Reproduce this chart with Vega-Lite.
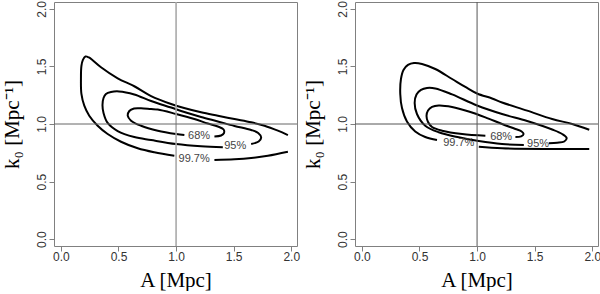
{
  "$schema": "https://vega.github.io/schema/vega-lite/v6.json",
  "padding": {"left": 0, "top": 0, "right": 0, "bottom": 0},
  "background": "white",
  "bounds": "flush",
  "spacing": 58,
  "config": {
    "view": {"stroke": "#808080", "strokeWidth": 1},
    "axis": {
      "grid": false, "domain": false, "tickColor": "#808080", "tickSize": 5, "tickWidth": 1,
      "labelFont": "Liberation Sans", "labelFontSize": 12, "labelColor": "#333",
      "labelFlush": false, "labelOverlap": false, "labelBound": false,
      "titleFont": "Liberation Serif", "titleFontSize": 21, "titleFontWeight": "normal", "titleColor": "black"
    }
  },
  "datasets": {
    "c": [
      {"p":"L","s":"997a","i":0,"A":0.985,"k":0.724},
      {"p":"L","s":"997a","i":1,"A":0.811,"k":0.754},
      {"p":"L","s":"997a","i":2,"A":0.667,"k":0.789},
      {"p":"L","s":"997a","i":3,"A":0.522,"k":0.846},
      {"p":"L","s":"997a","i":4,"A":0.406,"k":0.913},
      {"p":"L","s":"997a","i":5,"A":0.319,"k":0.985},
      {"p":"L","s":"997a","i":6,"A":0.246,"k":1.072},
      {"p":"L","s":"997a","i":7,"A":0.203,"k":1.159},
      {"p":"L","s":"997a","i":8,"A":0.178,"k":1.261},
      {"p":"L","s":"997a","i":9,"A":0.174,"k":1.391},
      {"p":"L","s":"997a","i":10,"A":0.178,"k":1.504},
      {"p":"L","s":"997a","i":11,"A":0.191,"k":1.557},
      {"p":"L","s":"997a","i":12,"A":0.213,"k":1.587},
      {"p":"L","s":"997a","i":13,"A":0.243,"k":1.578},
      {"p":"L","s":"997a","i":14,"A":0.278,"k":1.552},
      {"p":"L","s":"997a","i":15,"A":0.348,"k":1.493},
      {"p":"L","s":"997a","i":16,"A":0.493,"k":1.397},
      {"p":"L","s":"997a","i":17,"A":0.637,"k":1.328},
      {"p":"L","s":"997a","i":18,"A":0.783,"k":1.243},
      {"p":"L","s":"997a","i":19,"A":0.957,"k":1.174},
      {"p":"L","s":"997a","i":20,"A":1.070,"k":1.139},
      {"p":"L","s":"997a","i":21,"A":1.217,"k":1.102},
      {"p":"L","s":"997a","i":22,"A":1.363,"k":1.072},
      {"p":"L","s":"997a","i":23,"A":1.507,"k":1.043},
      {"p":"L","s":"997a","i":24,"A":1.652,"k":1.015},
      {"p":"L","s":"997a","i":25,"A":1.768,"k":0.985},
      {"p":"L","s":"997a","i":26,"A":1.884,"k":0.942},
      {"p":"L","s":"997a","i":27,"A":1.971,"k":0.904},
      {"p":"L","s":"997b","i":0,"A":1.333,"k":0.687},
      {"p":"L","s":"997b","i":1,"A":1.507,"k":0.693},
      {"p":"L","s":"997b","i":2,"A":1.652,"k":0.704},
      {"p":"L","s":"997b","i":3,"A":1.797,"k":0.724},
      {"p":"L","s":"997b","i":4,"A":1.971,"k":0.759},
      {"p":"L","s":"95","i":0,"A":1.406,"k":0.797},
      {"p":"L","s":"95","i":1,"A":1.217,"k":0.806},
      {"p":"L","s":"95","i":2,"A":1.0,"k":0.826},
      {"p":"L","s":"95","i":3,"A":0.783,"k":0.861},
      {"p":"L","s":"95","i":4,"A":0.637,"k":0.887},
      {"p":"L","s":"95","i":5,"A":0.493,"k":0.939},
      {"p":"L","s":"95","i":6,"A":0.406,"k":1.009},
      {"p":"L","s":"95","i":7,"A":0.370,"k":1.096},
      {"p":"L","s":"95","i":8,"A":0.361,"k":1.165},
      {"p":"L","s":"95","i":9,"A":0.370,"k":1.226},
      {"p":"L","s":"95","i":10,"A":0.391,"k":1.261},
      {"p":"L","s":"95","i":11,"A":0.435,"k":1.278},
      {"p":"L","s":"95","i":12,"A":0.504,"k":1.283},
      {"p":"L","s":"95","i":13,"A":0.637,"k":1.257},
      {"p":"L","s":"95","i":14,"A":0.783,"k":1.2},
      {"p":"L","s":"95","i":15,"A":0.957,"k":1.143},
      {"p":"L","s":"95","i":16,"A":1.072,"k":1.104},
      {"p":"L","s":"95","i":17,"A":1.217,"k":1.061},
      {"p":"L","s":"95","i":18,"A":1.363,"k":1.022},
      {"p":"L","s":"95","i":19,"A":1.507,"k":0.983},
      {"p":"L","s":"95","i":20,"A":1.652,"k":0.948},
      {"p":"L","s":"95","i":21,"A":1.713,"k":0.922},
      {"p":"L","s":"95","i":22,"A":1.739,"k":0.883},
      {"p":"L","s":"95","i":23,"A":1.717,"k":0.848},
      {"p":"L","s":"95","i":24,"A":1.652,"k":0.826},
      {"p":"L","s":"68","i":0,"A":1.072,"k":0.904},
      {"p":"L","s":"68","i":1,"A":1.0,"k":0.913},
      {"p":"L","s":"68","i":2,"A":0.841,"k":0.942},
      {"p":"L","s":"68","i":3,"A":0.696,"k":0.985},
      {"p":"L","s":"68","i":4,"A":0.609,"k":1.029},
      {"p":"L","s":"68","i":5,"A":0.580,"k":1.072},
      {"p":"L","s":"68","i":6,"A":0.594,"k":1.113},
      {"p":"L","s":"68","i":7,"A":0.635,"k":1.135},
      {"p":"L","s":"68","i":8,"A":0.696,"k":1.137},
      {"p":"L","s":"68","i":9,"A":0.783,"k":1.130},
      {"p":"L","s":"68","i":10,"A":0.841,"k":1.126},
      {"p":"L","s":"68","i":11,"A":1.0,"k":1.087},
      {"p":"L","s":"68","i":12,"A":1.159,"k":1.043},
      {"p":"L","s":"68","i":13,"A":1.276,"k":1.004},
      {"p":"L","s":"68","i":14,"A":1.363,"k":0.978},
      {"p":"L","s":"68","i":15,"A":1.413,"k":0.952},
      {"p":"L","s":"68","i":16,"A":1.417,"k":0.922},
      {"p":"L","s":"68","i":17,"A":1.391,"k":0.9},
      {"p":"L","s":"68","i":18,"A":1.333,"k":0.891},
      {"p":"R","s":"997a","i":0,"A":0.652,"k":0.861},
      {"p":"R","s":"997a","i":1,"A":0.550,"k":0.887},
      {"p":"R","s":"997a","i":2,"A":0.463,"k":0.935},
      {"p":"R","s":"997a","i":3,"A":0.391,"k":1.022},
      {"p":"R","s":"997a","i":4,"A":0.348,"k":1.139},
      {"p":"R","s":"997a","i":5,"A":0.333,"k":1.261},
      {"p":"R","s":"997a","i":6,"A":0.339,"k":1.391},
      {"p":"R","s":"997a","i":7,"A":0.361,"k":1.470},
      {"p":"R","s":"997a","i":8,"A":0.4,"k":1.513},
      {"p":"R","s":"997a","i":9,"A":0.452,"k":1.530},
      {"p":"R","s":"997a","i":10,"A":0.522,"k":1.522},
      {"p":"R","s":"997a","i":11,"A":0.637,"k":1.478},
      {"p":"R","s":"997a","i":12,"A":0.783,"k":1.391},
      {"p":"R","s":"997a","i":13,"A":0.898,"k":1.322},
      {"p":"R","s":"997a","i":14,"A":1.0,"k":1.265},
      {"p":"R","s":"997a","i":15,"A":1.130,"k":1.222},
      {"p":"R","s":"997a","i":16,"A":1.217,"k":1.187},
      {"p":"R","s":"997a","i":17,"A":1.435,"k":1.116},
      {"p":"R","s":"997a","i":18,"A":1.652,"k":1.043},
      {"p":"R","s":"997a","i":19,"A":1.826,"k":1.0},
      {"p":"R","s":"997a","i":20,"A":1.974,"k":0.950},
      {"p":"R","s":"997b","i":0,"A":1.015,"k":0.803},
      {"p":"R","s":"997b","i":1,"A":1.217,"k":0.789},
      {"p":"R","s":"997b","i":2,"A":1.652,"k":0.783},
      {"p":"R","s":"997b","i":3,"A":1.974,"k":0.783},
      {"p":"R","s":"95","i":0,"A":1.406,"k":0.817},
      {"p":"R","s":"95","i":1,"A":1.217,"k":0.826},
      {"p":"R","s":"95","i":2,"A":1.015,"k":0.852},
      {"p":"R","s":"95","i":3,"A":0.841,"k":0.884},
      {"p":"R","s":"95","i":4,"A":0.667,"k":0.928},
      {"p":"R","s":"95","i":5,"A":0.550,"k":0.985},
      {"p":"R","s":"95","i":6,"A":0.478,"k":1.087},
      {"p":"R","s":"95","i":7,"A":0.458,"k":1.183},
      {"p":"R","s":"95","i":8,"A":0.474,"k":1.257},
      {"p":"R","s":"95","i":9,"A":0.513,"k":1.296},
      {"p":"R","s":"95","i":10,"A":0.565,"k":1.313},
      {"p":"R","s":"95","i":11,"A":0.637,"k":1.309},
      {"p":"R","s":"95","i":12,"A":0.783,"k":1.257},
      {"p":"R","s":"95","i":13,"A":1.0,"k":1.161},
      {"p":"R","s":"95","i":14,"A":1.217,"k":1.087},
      {"p":"R","s":"95","i":15,"A":1.435,"k":1.026},
      {"p":"R","s":"95","i":16,"A":1.652,"k":0.952},
      {"p":"R","s":"95","i":17,"A":1.739,"k":0.913},
      {"p":"R","s":"95","i":18,"A":1.778,"k":0.878},
      {"p":"R","s":"95","i":19,"A":1.757,"k":0.848},
      {"p":"R","s":"95","i":20,"A":1.696,"k":0.837},
      {"p":"R","s":"95","i":21,"A":1.623,"k":0.833},
      {"p":"R","s":"68","i":0,"A":1.072,"k":0.898},
      {"p":"R","s":"68","i":1,"A":0.870,"k":0.913},
      {"p":"R","s":"68","i":2,"A":0.696,"k":0.942},
      {"p":"R","s":"68","i":3,"A":0.609,"k":0.974},
      {"p":"R","s":"68","i":4,"A":0.574,"k":1.017},
      {"p":"R","s":"68","i":5,"A":0.561,"k":1.072},
      {"p":"R","s":"68","i":6,"A":0.574,"k":1.117},
      {"p":"R","s":"68","i":7,"A":0.609,"k":1.148},
      {"p":"R","s":"68","i":8,"A":0.667,"k":1.161},
      {"p":"R","s":"68","i":9,"A":0.783,"k":1.148},
      {"p":"R","s":"68","i":10,"A":0.928,"k":1.109},
      {"p":"R","s":"68","i":11,"A":1.072,"k":1.058},
      {"p":"R","s":"68","i":12,"A":1.217,"k":1.0},
      {"p":"R","s":"68","i":13,"A":1.333,"k":0.957},
      {"p":"R","s":"68","i":14,"A":1.387,"k":0.935},
      {"p":"R","s":"68","i":15,"A":1.404,"k":0.913},
      {"p":"R","s":"68","i":16,"A":1.383,"k":0.893},
      {"p":"R","s":"68","i":17,"A":1.333,"k":0.887}
    ],
    "t": [
      {"p":"L","lab":"68%","A":1.2,"k":0.9},
      {"p":"L","lab":"95%","A":1.513,"k":0.809},
      {"p":"L","lab":"99.7%","A":1.157,"k":0.696},
      {"p":"R","lab":"68%","A":1.209,"k":0.891},
      {"p":"R","lab":"95%","A":1.53,"k":0.822},
      {"p":"R","lab":"99.7%","A":0.841,"k":0.839}
    ]
  },
  "hconcat": [
    {
      "width": 243, "height": 244,
      "layer": [
        {
          "data": {"name": "c"},
          "transform": [{"filter": "datum.p == 'L'"}],
          "mark": {"type": "line", "color": "black", "strokeWidth": 2, "interpolate": "catmull-rom", "strokeJoin": "round"},
          "encoding": {
            "x": {"field": "A", "type": "quantitative",
                  "scale": {"domain": [-0.06, 2.05], "nice": false, "zero": false},
                  "axis": {"values": [0, 0.5, 1, 1.5, 2], "format": ".1f", "labelPadding": 0, "title": "A [Mpc]", "titleBaseline": "alphabetic", "titleY": 40}},
            "y": {"field": "k", "type": "quantitative",
                  "scale": {"domain": [-0.06, 2.06], "nice": false, "zero": false},
                  "axis": {"values": [0, 0.5, 1, 1.5, 2], "format": ".1f", "labelAngle": 270, "labelAlign": "center", "labelBaseline": "bottom", "labelPadding": 1, "title": "k₀ [Mpc⁻¹]", "titleBaseline": "alphabetic", "titleX": -36}},
            "detail": {"field": "s"},
            "order": {"field": "i", "type": "quantitative"}
          }
        },
        {
          "data": {"values": [{}]},
          "mark": {"type": "rule", "color": "#aaaaaa", "strokeWidth": 1.6},
          "encoding": {"x": {"datum": 1, "type": "quantitative"}}
        },
        {
          "data": {"values": [{}]},
          "mark": {"type": "rule", "color": "#666666", "strokeWidth": 1},
          "encoding": {"y": {"datum": 1, "type": "quantitative"}}
        },
        {
          "data": {"name": "t"},
          "transform": [{"filter": "datum.p == 'L'"}],
          "mark": {"type": "text", "font": "Liberation Sans", "fontSize": 11, "color": "#444444"},
          "encoding": {
            "x": {"field": "A", "type": "quantitative"},
            "y": {"field": "k", "type": "quantitative"},
            "text": {"field": "lab"}
          }
        }
      ]
    },
    {
      "width": 243, "height": 244,
      "layer": [
        {
          "data": {"name": "c"},
          "transform": [{"filter": "datum.p == 'R'"}],
          "mark": {"type": "line", "color": "black", "strokeWidth": 2, "interpolate": "catmull-rom", "strokeJoin": "round"},
          "encoding": {
            "x": {"field": "A", "type": "quantitative",
                  "scale": {"domain": [-0.06, 2.05], "nice": false, "zero": false},
                  "axis": {"values": [0, 0.5, 1, 1.5, 2], "format": ".1f", "labelPadding": 0, "title": "A [Mpc]", "titleBaseline": "alphabetic", "titleY": 40}},
            "y": {"field": "k", "type": "quantitative",
                  "scale": {"domain": [-0.06, 2.06], "nice": false, "zero": false},
                  "axis": {"values": [0, 0.5, 1, 1.5, 2], "format": ".1f", "labelAngle": 270, "labelAlign": "center", "labelBaseline": "bottom", "labelPadding": 1, "title": "k₀ [Mpc⁻¹]", "titleBaseline": "alphabetic", "titleX": -36}},
            "detail": {"field": "s"},
            "order": {"field": "i", "type": "quantitative"}
          }
        },
        {
          "data": {"values": [{}]},
          "mark": {"type": "rule", "color": "#555555", "strokeWidth": 1},
          "encoding": {"x": {"datum": 1, "type": "quantitative"}}
        },
        {
          "data": {"values": [{}]},
          "mark": {"type": "rule", "color": "#555555", "strokeWidth": 1},
          "encoding": {"y": {"datum": 1, "type": "quantitative"}}
        },
        {
          "data": {"name": "t"},
          "transform": [{"filter": "datum.p == 'R'"}],
          "mark": {"type": "text", "font": "Liberation Sans", "fontSize": 11, "color": "#444444"},
          "encoding": {
            "x": {"field": "A", "type": "quantitative"},
            "y": {"field": "k", "type": "quantitative"},
            "text": {"field": "lab"}
          }
        }
      ]
    }
  ]
}
